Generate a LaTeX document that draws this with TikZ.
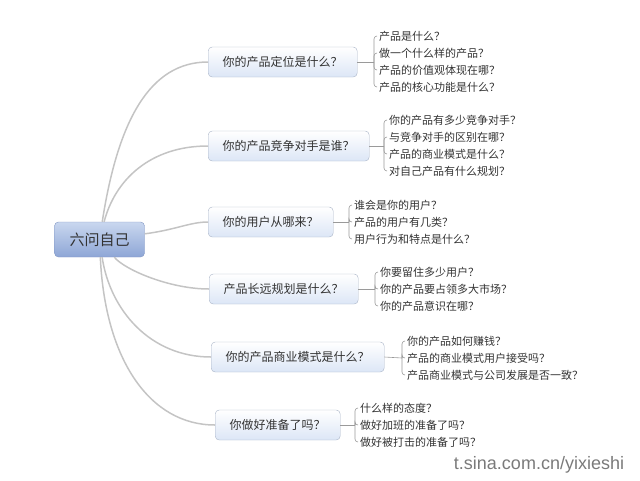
\documentclass[tikz,border=0pt]{standalone}
\usepackage{fontspec}
\newfontfamily\cjk{Noto Sans CJK SC}
\newfontfamily\wmfont{Liberation Sans}
\definecolor{txtgray}{HTML}{333333}
\definecolor{boxline}{HTML}{A9B4C7}
\definecolor{boxfill}{HTML}{DCE6F6}
\definecolor{roottop}{HTML}{C9D7EF}
\definecolor{rootbot}{HTML}{8EA6D6}
\definecolor{rootline}{HTML}{8297C4}
\definecolor{curvegray}{HTML}{C4C4C4}
\definecolor{leafgray}{HTML}{9A9A9A}
\definecolor{markgray}{HTML}{7A7A7A}
\begin{document}
\begin{tikzpicture}[x=1pt,y=-1pt,
  rootbox/.style={draw=rootline,rounded corners=4pt,top color=roottop,bottom color=rootbot,
    text=txtgray,font=\cjk\fontsize{15}{15}\selectfont,inner xsep=15pt,minimum height=35pt},
  topicbox/.style={draw=boxline,rounded corners=4pt,top color=white,bottom color=boxfill,
    text=txtgray,font=\cjk\fontsize{12}{12}\selectfont,inner xsep=14.5pt,minimum height=30pt,anchor=west},
  leaf/.style={text=txtgray,font=\cjk\fontsize{11}{11}\selectfont,inner sep=2pt,anchor=west},
  curve/.style={draw=curvegray,line width=1.5pt},
  bracket/.style={draw=leafgray,line width=0.6pt,rounded corners=3pt}]
  \useasboundingbox (0,0) rectangle (640,480);
  \node[rootbox](root) at (99.5,239.5) {六问自己};
  \node[topicbox](b1) at (208,62) {你的产品定位是什么？};
  \node[topicbox](b2) at (208,146) {你的产品竞争对手是谁？};
  \node[topicbox](b3) at (208,222) {你的用户从哪来？};
  \node[topicbox](b4) at (209,289) {产品长远规划是什么？};
  \node[topicbox](b5) at (211,357) {你的产品商业模式是什么？};
  \node[topicbox](b6) at (215,425) {你做好准备了吗？};
  \draw[curve] (root) .. controls (118,120) and (150,62) .. (b1.west);
  \draw[curve] (root) .. controls (115,180) and (150,146) .. (b2.west);
  \draw[curve] (root) .. controls (175,230) and (190,222) .. (b3.west);
  \draw[curve] (root) .. controls (125,270) and (170,289) .. (b4.west);
  \draw[curve] (root) .. controls (110,310) and (150,357) .. (b5.west);
  \draw[curve] (root) .. controls (105,360) and (150,425) .. (b6.west);
  % leaves
  \coordinate(j1) at (374,62);
  \node[leaf](l11) at (377,36) {产品是什么？};
  \node[leaf](l12) at (377,53) {做一个什么样的产品？};
  \node[leaf](l13) at (377,70) {产品的价值观体现在哪？};
  \node[leaf](l14) at (377,87) {产品的核心功能是什么？};
  \coordinate(j2) at (384,146);
  \node[leaf](l21) at (387,120) {你的产品有多少竞争对手？};
  \node[leaf](l22) at (387,137) {与竞争对手的区别在哪？};
  \node[leaf](l23) at (387,154) {产品的商业模式是什么？};
  \node[leaf](l24) at (387,171) {对自己产品有什么规划？};
  \coordinate(j3) at (349,222);
  \node[leaf](l31) at (352,205) {谁会是你的用户？};
  \node[leaf](l32) at (352,222) {产品的用户有几类？};
  \node[leaf](l33) at (352,239) {用户行为和特点是什么？};
  \coordinate(j4) at (375,289);
  \node[leaf](l41) at (378,272) {你要留住多少用户？};
  \node[leaf](l42) at (378,289) {你的产品要占领多大市场？};
  \node[leaf](l43) at (378,306) {你的产品意识在哪？};
  \coordinate(j5) at (402,358);
  \node[leaf](l51) at (405,341) {你的产品如何赚钱？};
  \node[leaf](l52) at (405,358) {产品的商业模式用户接受吗？};
  \node[leaf](l53) at (405,375) {产品商业模式与公司发展是否一致？};
  \coordinate(j6) at (355,425);
  \node[leaf](l61) at (358,408) {什么样的态度？};
  \node[leaf](l62) at (358,425) {做好加班的准备了吗？};
  \node[leaf](l63) at (358,442) {做好被打击的准备了吗？};
  \draw[bracket] (b1.east) -- (j1);
  \draw[bracket] (j1) |- (l11.west);
  \draw[bracket] (j1) |- (l12.west);
  \draw[bracket] (j1) |- (l13.west);
  \draw[bracket] (j1) |- (l14.west);
  \draw[bracket] (b2.east) -- (j2);
  \draw[bracket] (j2) |- (l21.west);
  \draw[bracket] (j2) |- (l22.west);
  \draw[bracket] (j2) |- (l23.west);
  \draw[bracket] (j2) |- (l24.west);
  \draw[bracket] (b3.east) -- (j3);
  \draw[bracket] (j3) |- (l31.west);
  \draw[bracket] (j3) |- (l32.west);
  \draw[bracket] (j3) |- (l33.west);
  \draw[bracket] (b4.east) -- (j4);
  \draw[bracket] (j4) |- (l41.west);
  \draw[bracket] (j4) |- (l42.west);
  \draw[bracket] (j4) |- (l43.west);
  \draw[bracket] (b5.east) -- (j5);
  \draw[bracket] (j5) |- (l51.west);
  \draw[bracket] (j5) |- (l52.west);
  \draw[bracket] (j5) |- (l53.west);
  \draw[bracket] (b6.east) -- (j6);
  \draw[bracket] (j6) |- (l61.west);
  \draw[bracket] (j6) |- (l62.west);
  \draw[bracket] (j6) |- (l63.west);
  % watermark
  \node[text=markgray,font=\wmfont\fontsize{18}{18}\selectfont](mark) at (539,465) {t.sina.com.cn/yixieshi};
\end{tikzpicture}
\end{document}
